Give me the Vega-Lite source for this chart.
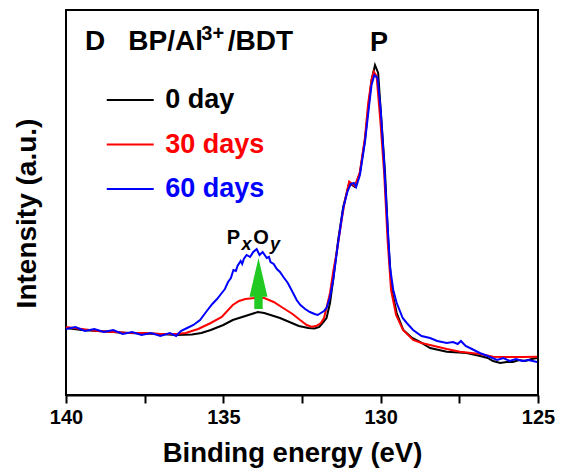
{
  "$schema": "https://vega.github.io/schema/vega-lite/v6.json",
  "width": 472,
  "height": 385,
  "autosize": {"type": "none"},
  "padding": {"left": 66, "top": 10, "right": 24, "bottom": 75},
  "background": "white",
  "config": {
    "view": {"stroke": "black", "strokeWidth": 2},
    "font": "Liberation Sans"
  },
  "layer": [
    {
      "data": {
        "values": [
          {"E": 140.0, "I": 67, "s": "0 day"}, {"E": 139.5, "I": 65, "s": "0 day"}, {"E": 139.0, "I": 64, "s": "0 day"},
          {"E": 138.5, "I": 63, "s": "0 day"}, {"E": 138.0, "I": 62, "s": "0 day"}, {"E": 137.5, "I": 61.5, "s": "0 day"},
          {"E": 137.0, "I": 61, "s": "0 day"}, {"E": 136.5, "I": 60, "s": "0 day"}, {"E": 136.0, "I": 60.5, "s": "0 day"},
          {"E": 135.7, "I": 62, "s": "0 day"}, {"E": 135.4, "I": 65, "s": "0 day"}, {"E": 135.0, "I": 70, "s": "0 day"},
          {"E": 134.7, "I": 75, "s": "0 day"}, {"E": 134.4, "I": 78, "s": "0 day"}, {"E": 134.1, "I": 81, "s": "0 day"},
          {"E": 133.9, "I": 83, "s": "0 day"}, {"E": 133.7, "I": 82, "s": "0 day"}, {"E": 133.5, "I": 80, "s": "0 day"},
          {"E": 133.2, "I": 77, "s": "0 day"}, {"E": 132.9, "I": 73, "s": "0 day"}, {"E": 132.6, "I": 69, "s": "0 day"},
          {"E": 132.3, "I": 67, "s": "0 day"}, {"E": 132.1, "I": 66.5, "s": "0 day"}, {"E": 131.95, "I": 68, "s": "0 day"},
          {"E": 131.82, "I": 73, "s": "0 day"}, {"E": 131.72, "I": 77, "s": "0 day"}, {"E": 131.61, "I": 92, "s": "0 day"},
          {"E": 131.51, "I": 115, "s": "0 day"}, {"E": 131.35, "I": 155, "s": "0 day"}, {"E": 131.19, "I": 188, "s": "0 day"},
          {"E": 131.0, "I": 212, "s": "0 day"}, {"E": 130.82, "I": 208, "s": "0 day"}, {"E": 130.66, "I": 222, "s": "0 day"},
          {"E": 130.5, "I": 255, "s": "0 day"}, {"E": 130.39, "I": 288, "s": "0 day"}, {"E": 130.29, "I": 315, "s": "0 day"},
          {"E": 130.18, "I": 330, "s": "0 day"}, {"E": 130.08, "I": 322, "s": "0 day"}, {"E": 129.97, "I": 272, "s": "0 day"},
          {"E": 129.86, "I": 222, "s": "0 day"}, {"E": 129.76, "I": 155, "s": "0 day"}, {"E": 129.65, "I": 105, "s": "0 day"},
          {"E": 129.49, "I": 82, "s": "0 day"}, {"E": 129.28, "I": 65, "s": "0 day"}, {"E": 129.0, "I": 57, "s": "0 day"},
          {"E": 128.75, "I": 53, "s": "0 day"}, {"E": 128.43, "I": 47, "s": "0 day"}, {"E": 127.9, "I": 43.3, "s": "0 day"},
          {"E": 127.27, "I": 42, "s": "0 day"}, {"E": 126.84, "I": 39, "s": "0 day"}, {"E": 126.6, "I": 37, "s": "0 day"},
          {"E": 126.43, "I": 34, "s": "0 day"}, {"E": 126.2, "I": 32, "s": "0 day"}, {"E": 126.0, "I": 33, "s": "0 day"},
          {"E": 125.8, "I": 33, "s": "0 day"}, {"E": 125.6, "I": 35, "s": "0 day"}, {"E": 125.41, "I": 34, "s": "0 day"},
          {"E": 125.2, "I": 36, "s": "0 day"}, {"E": 125.03, "I": 37, "s": "0 day"},

          {"E": 140.0, "I": 68, "s": "30 days"}, {"E": 139.5, "I": 66, "s": "30 days"}, {"E": 139.0, "I": 64, "s": "30 days"},
          {"E": 138.5, "I": 63, "s": "30 days"}, {"E": 138.0, "I": 62, "s": "30 days"}, {"E": 137.5, "I": 62, "s": "30 days"},
          {"E": 137.0, "I": 61, "s": "30 days"}, {"E": 136.5, "I": 61, "s": "30 days"}, {"E": 136.2, "I": 62, "s": "30 days"},
          {"E": 135.8, "I": 66, "s": "30 days"}, {"E": 135.4, "I": 72, "s": "30 days"}, {"E": 135.05, "I": 78, "s": "30 days"},
          {"E": 134.7, "I": 90, "s": "30 days"}, {"E": 134.5, "I": 94, "s": "30 days"}, {"E": 134.3, "I": 96, "s": "30 days"},
          {"E": 134.0, "I": 97, "s": "30 days"}, {"E": 133.7, "I": 97, "s": "30 days"}, {"E": 133.4, "I": 93, "s": "30 days"},
          {"E": 133.1, "I": 87, "s": "30 days"}, {"E": 132.8, "I": 81, "s": "30 days"}, {"E": 132.56, "I": 75, "s": "30 days"},
          {"E": 132.35, "I": 70, "s": "30 days"}, {"E": 132.2, "I": 68.3, "s": "30 days"}, {"E": 132.05, "I": 69, "s": "30 days"},
          {"E": 131.9, "I": 72, "s": "30 days"}, {"E": 131.8, "I": 77, "s": "30 days"}, {"E": 131.7, "I": 90, "s": "30 days"},
          {"E": 131.61, "I": 102, "s": "30 days"}, {"E": 131.5, "I": 125, "s": "30 days"}, {"E": 131.4, "I": 142, "s": "30 days"},
          {"E": 131.24, "I": 175, "s": "30 days"}, {"E": 131.15, "I": 192, "s": "30 days"}, {"E": 131.0, "I": 213.5, "s": "30 days"},
          {"E": 130.82, "I": 209, "s": "30 days"}, {"E": 130.66, "I": 223, "s": "30 days"}, {"E": 130.5, "I": 257, "s": "30 days"},
          {"E": 130.4, "I": 291, "s": "30 days"}, {"E": 130.29, "I": 315, "s": "30 days"}, {"E": 130.22, "I": 323.3, "s": "30 days"},
          {"E": 130.13, "I": 319, "s": "30 days"}, {"E": 130.0, "I": 270, "s": "30 days"}, {"E": 129.89, "I": 222, "s": "30 days"},
          {"E": 129.78, "I": 155, "s": "30 days"}, {"E": 129.67, "I": 105, "s": "30 days"}, {"E": 129.51, "I": 80, "s": "30 days"},
          {"E": 129.29, "I": 65, "s": "30 days"}, {"E": 128.97, "I": 55, "s": "30 days"}, {"E": 128.7, "I": 52, "s": "30 days"},
          {"E": 128.43, "I": 50, "s": "30 days"}, {"E": 127.9, "I": 46, "s": "30 days"}, {"E": 127.48, "I": 43.3, "s": "30 days"},
          {"E": 126.84, "I": 41, "s": "30 days"}, {"E": 126.43, "I": 38.3, "s": "30 days"}, {"E": 126.0, "I": 38, "s": "30 days"},
          {"E": 125.5, "I": 38, "s": "30 days"}, {"E": 125.03, "I": 38.3, "s": "30 days"},

          {"E": 140.0, "I": 66, "s": "60 days"}, {"E": 139.7, "I": 68, "s": "60 days"}, {"E": 139.4, "I": 64, "s": "60 days"},
          {"E": 139.1, "I": 66, "s": "60 days"}, {"E": 138.8, "I": 63, "s": "60 days"}, {"E": 138.5, "I": 65, "s": "60 days"},
          {"E": 138.2, "I": 61, "s": "60 days"}, {"E": 137.9, "I": 63, "s": "60 days"}, {"E": 137.6, "I": 60, "s": "60 days"},
          {"E": 137.3, "I": 62, "s": "60 days"}, {"E": 137.0, "I": 59, "s": "60 days"}, {"E": 136.7, "I": 62, "s": "60 days"},
          {"E": 136.5, "I": 59, "s": "60 days"}, {"E": 136.35, "I": 64, "s": "60 days"}, {"E": 136.15, "I": 67, "s": "60 days"},
          {"E": 135.95, "I": 70, "s": "60 days"}, {"E": 135.74, "I": 75, "s": "60 days"}, {"E": 135.55, "I": 83, "s": "60 days"},
          {"E": 135.35, "I": 91, "s": "60 days"}, {"E": 135.2, "I": 96, "s": "60 days"}, {"E": 135.05, "I": 102, "s": "60 days"},
          {"E": 134.95, "I": 106, "s": "60 days"}, {"E": 134.85, "I": 113, "s": "60 days"}, {"E": 134.76, "I": 117, "s": "60 days"},
          {"E": 134.68, "I": 125, "s": "60 days"}, {"E": 134.6, "I": 124, "s": "60 days"},
          {"E": 134.55, "I": 129, "s": "60 days"}, {"E": 134.45, "I": 134, "s": "60 days"}, {"E": 134.4, "I": 131, "s": "60 days"},
          {"E": 134.35, "I": 136, "s": "60 days"}, {"E": 134.26, "I": 140, "s": "60 days"},
          {"E": 134.15, "I": 138, "s": "60 days"}, {"E": 134.05, "I": 143, "s": "60 days"}, {"E": 133.94, "I": 146, "s": "60 days"},
          {"E": 133.85, "I": 140, "s": "60 days"}, {"E": 133.75, "I": 143, "s": "60 days"}, {"E": 133.62, "I": 137, "s": "60 days"},
          {"E": 133.55, "I": 138, "s": "60 days"},
          {"E": 133.5, "I": 133, "s": "60 days"}, {"E": 133.4, "I": 131, "s": "60 days"}, {"E": 133.3, "I": 126, "s": "60 days"},
          {"E": 133.2, "I": 123, "s": "60 days"}, {"E": 133.09, "I": 118, "s": "60 days"}, {"E": 132.95, "I": 112, "s": "60 days"},
          {"E": 132.8, "I": 103, "s": "60 days"}, {"E": 132.67, "I": 95, "s": "60 days"}, {"E": 132.55, "I": 90, "s": "60 days"},
          {"E": 132.4, "I": 86, "s": "60 days"}, {"E": 132.25, "I": 83, "s": "60 days"}, {"E": 132.1, "I": 81, "s": "60 days"},
          {"E": 132.0, "I": 80, "s": "60 days"}, {"E": 131.9, "I": 82, "s": "60 days"}, {"E": 131.8, "I": 84, "s": "60 days"},
          {"E": 131.72, "I": 87, "s": "60 days"}, {"E": 131.61, "I": 98, "s": "60 days"}, {"E": 131.51, "I": 115, "s": "60 days"},
          {"E": 131.35, "I": 153, "s": "60 days"}, {"E": 131.19, "I": 187, "s": "60 days"}, {"E": 131.05, "I": 204, "s": "60 days"},
          {"E": 130.95, "I": 211, "s": "60 days"}, {"E": 130.85, "I": 212, "s": "60 days"}, {"E": 130.78, "I": 208, "s": "60 days"},
          {"E": 130.66, "I": 220, "s": "60 days"}, {"E": 130.5, "I": 253, "s": "60 days"}, {"E": 130.38, "I": 286, "s": "60 days"},
          {"E": 130.29, "I": 310, "s": "60 days"}, {"E": 130.2, "I": 320, "s": "60 days"}, {"E": 130.1, "I": 317, "s": "60 days"},
          {"E": 130.0, "I": 285, "s": "60 days"}, {"E": 129.9, "I": 237, "s": "60 days"}, {"E": 129.8, "I": 180, "s": "60 days"},
          {"E": 129.7, "I": 127, "s": "60 days"}, {"E": 129.6, "I": 105, "s": "60 days"}, {"E": 129.49, "I": 92, "s": "60 days"},
          {"E": 129.3, "I": 77, "s": "60 days"}, {"E": 129.17, "I": 72, "s": "60 days"}, {"E": 128.97, "I": 65, "s": "60 days"},
          {"E": 128.7, "I": 59, "s": "60 days"}, {"E": 128.43, "I": 57, "s": "60 days"}, {"E": 128.2, "I": 54, "s": "60 days"},
          {"E": 127.9, "I": 52, "s": "60 days"}, {"E": 127.7, "I": 53, "s": "60 days"}, {"E": 127.55, "I": 51, "s": "60 days"},
          {"E": 127.45, "I": 54, "s": "60 days"}, {"E": 127.3, "I": 49, "s": "60 days"}, {"E": 127.1, "I": 46, "s": "60 days"},
          {"E": 126.85, "I": 42, "s": "60 days"}, {"E": 126.6, "I": 39, "s": "60 days"}, {"E": 126.3, "I": 35, "s": "60 days"},
          {"E": 126.1, "I": 37, "s": "60 days"}, {"E": 125.9, "I": 34, "s": "60 days"}, {"E": 125.7, "I": 36, "s": "60 days"},
          {"E": 125.5, "I": 34, "s": "60 days"}, {"E": 125.3, "I": 35, "s": "60 days"}, {"E": 125.03, "I": 33, "s": "60 days"}
        ]
      },
      "mark": {"type": "line", "strokeWidth": 2, "interpolate": "linear"},
      "encoding": {
        "x": {
          "field": "E",
          "type": "quantitative",
          "scale": {"domain": [125, 140], "reverse": true, "nice": false, "zero": false},
          "axis": {
            "title": "Binding energy (eV)",
            "values": [140, 137.5, 135, 132.5, 130, 127.5, 125],
            "labelExpr": "datum.value % 5 === 0 ? datum.label : ''",
            "tickSize": 8,
            "tickWidth": 2,
            "tickColor": "black",
            "domainColor": "black",
            "domainWidth": 2,
            "grid": false,
            "labelFont": "Liberation Sans",
            "labelFontSize": 20,
            "labelFontWeight": "bold",
            "labelColor": "black",
            "labelPadding": 4,
            "labelFlush": false,
            "labelOverlap": false,
            "titleFont": "Liberation Sans",
            "titleFontSize": 27.5,
            "titleFontWeight": "bold",
            "titleColor": "black",
            "titleBaseline": "alphabetic",
            "titleX": 226,
            "titleY": 66,
            "encode": {"ticks": {"update": {"y2": {"signal": "datum.value % 5 === 0 ? 8 : 4"}}}}
          }
        },
        "y": {
          "field": "I",
          "type": "quantitative",
          "scale": {"domain": [0, 385], "nice": false, "zero": false},
          "axis": {
            "title": "Intensity (a.u.)",
            "ticks": false,
            "labels": false,
            "domain": false,
            "grid": false,
            "titleFont": "Liberation Sans",
            "titleFontSize": 28,
            "titleFontWeight": "bold",
            "titleColor": "black",
            "titleBaseline": "alphabetic",
            "titleX": -31,
            "titleY": 203
          }
        },
        "color": {
          "field": "s",
          "type": "nominal",
          "scale": {"domain": ["0 day", "30 days", "60 days"], "range": ["#000000", "#ff0000", "#0000ff"]},
          "legend": {
            "title": null,
            "orient": "none",
            "legendX": 50.75,
            "legendY": 76.5,
            "padding": 0,
            "symbolType": "M-2,0H2",
            "symbolSize": 552,
            "symbolStrokeWidth": 2,
            "labelFont": "Liberation Sans",
            "labelFontSize": 27,
            "labelFontWeight": "bold",
            "labelOffset": 21.45,
            "labelLimit": 300,
            "rowPadding": 16.5,
            "encode": {"labels": {"update": {"fill": {"scale": "color", "field": "value"}}}}
          }
        }
      }
    },
    {
      "data": {"values": [
        {"t": "D", "E": 139.396, "I": 345},
        {"t": "BP/Al", "E": 138.02, "I": 345},
        {"t": "/BDT", "E": 134.86, "I": 345}
      ]},
      "mark": {"type": "text", "align": "left", "baseline": "alphabetic", "font": "Liberation Sans", "fontSize": 28, "fontWeight": "bold", "color": "black"},
      "encoding": {
        "x": {"field": "E", "type": "quantitative"},
        "y": {"field": "I", "type": "quantitative"},
        "text": {"field": "t"}
      }
    },
    {
      "data": {"values": [{"t": "3+", "E": 135.7, "I": 355}]},
      "mark": {"type": "text", "align": "left", "baseline": "alphabetic", "font": "Liberation Sans", "fontSize": 20, "fontWeight": "bold", "color": "black"},
      "encoding": {
        "x": {"field": "E", "type": "quantitative"},
        "y": {"field": "I", "type": "quantitative"},
        "text": {"field": "t"}
      }
    },
    {
      "data": {"values": [{"t": "P", "E": 130.053, "I": 344}]},
      "mark": {"type": "text", "align": "center", "baseline": "alphabetic", "font": "Liberation Sans", "fontSize": 27, "fontWeight": "bold", "color": "black"},
      "encoding": {
        "x": {"field": "E", "type": "quantitative"},
        "y": {"field": "I", "type": "quantitative"},
        "text": {"field": "t"}
      }
    },
    {
      "data": {"values": [
        {"t": "P", "E": 134.893, "I": 150.7},
        {"t": "O", "E": 134.048, "I": 150.7}
      ]},
      "mark": {"type": "text", "align": "left", "baseline": "alphabetic", "font": "Liberation Sans", "fontSize": 20, "fontWeight": "bold", "color": "black"},
      "encoding": {
        "x": {"field": "E", "type": "quantitative"},
        "y": {"field": "I", "type": "quantitative"},
        "text": {"field": "t"}
      }
    },
    {
      "data": {"values": [
        {"t": "x", "E": 134.423, "I": 145},
        {"t": "y", "E": 133.517, "I": 145}
      ]},
      "mark": {"type": "text", "align": "left", "baseline": "alphabetic", "font": "Liberation Sans", "fontSize": 18, "fontWeight": "bold", "fontStyle": "italic", "color": "black"},
      "encoding": {
        "x": {"field": "E", "type": "quantitative"},
        "y": {"field": "I", "type": "quantitative"},
        "text": {"field": "t"}
      }
    },
    {
      "data": {"values": [{"E": 133.883, "I": 111.5}]},
      "mark": {
        "type": "point",
        "shape": "M0,-2.55L0.9,1.32L0.42,1.32L0.42,2.55L-0.42,2.55L-0.42,1.32L-0.9,1.32Z",
        "size": 400,
        "filled": true,
        "color": "#22c922",
        "opacity": 1,
        "strokeWidth": 0
      },
      "encoding": {
        "x": {"field": "E", "type": "quantitative"},
        "y": {"field": "I", "type": "quantitative"}
      }
    }
  ]
}
